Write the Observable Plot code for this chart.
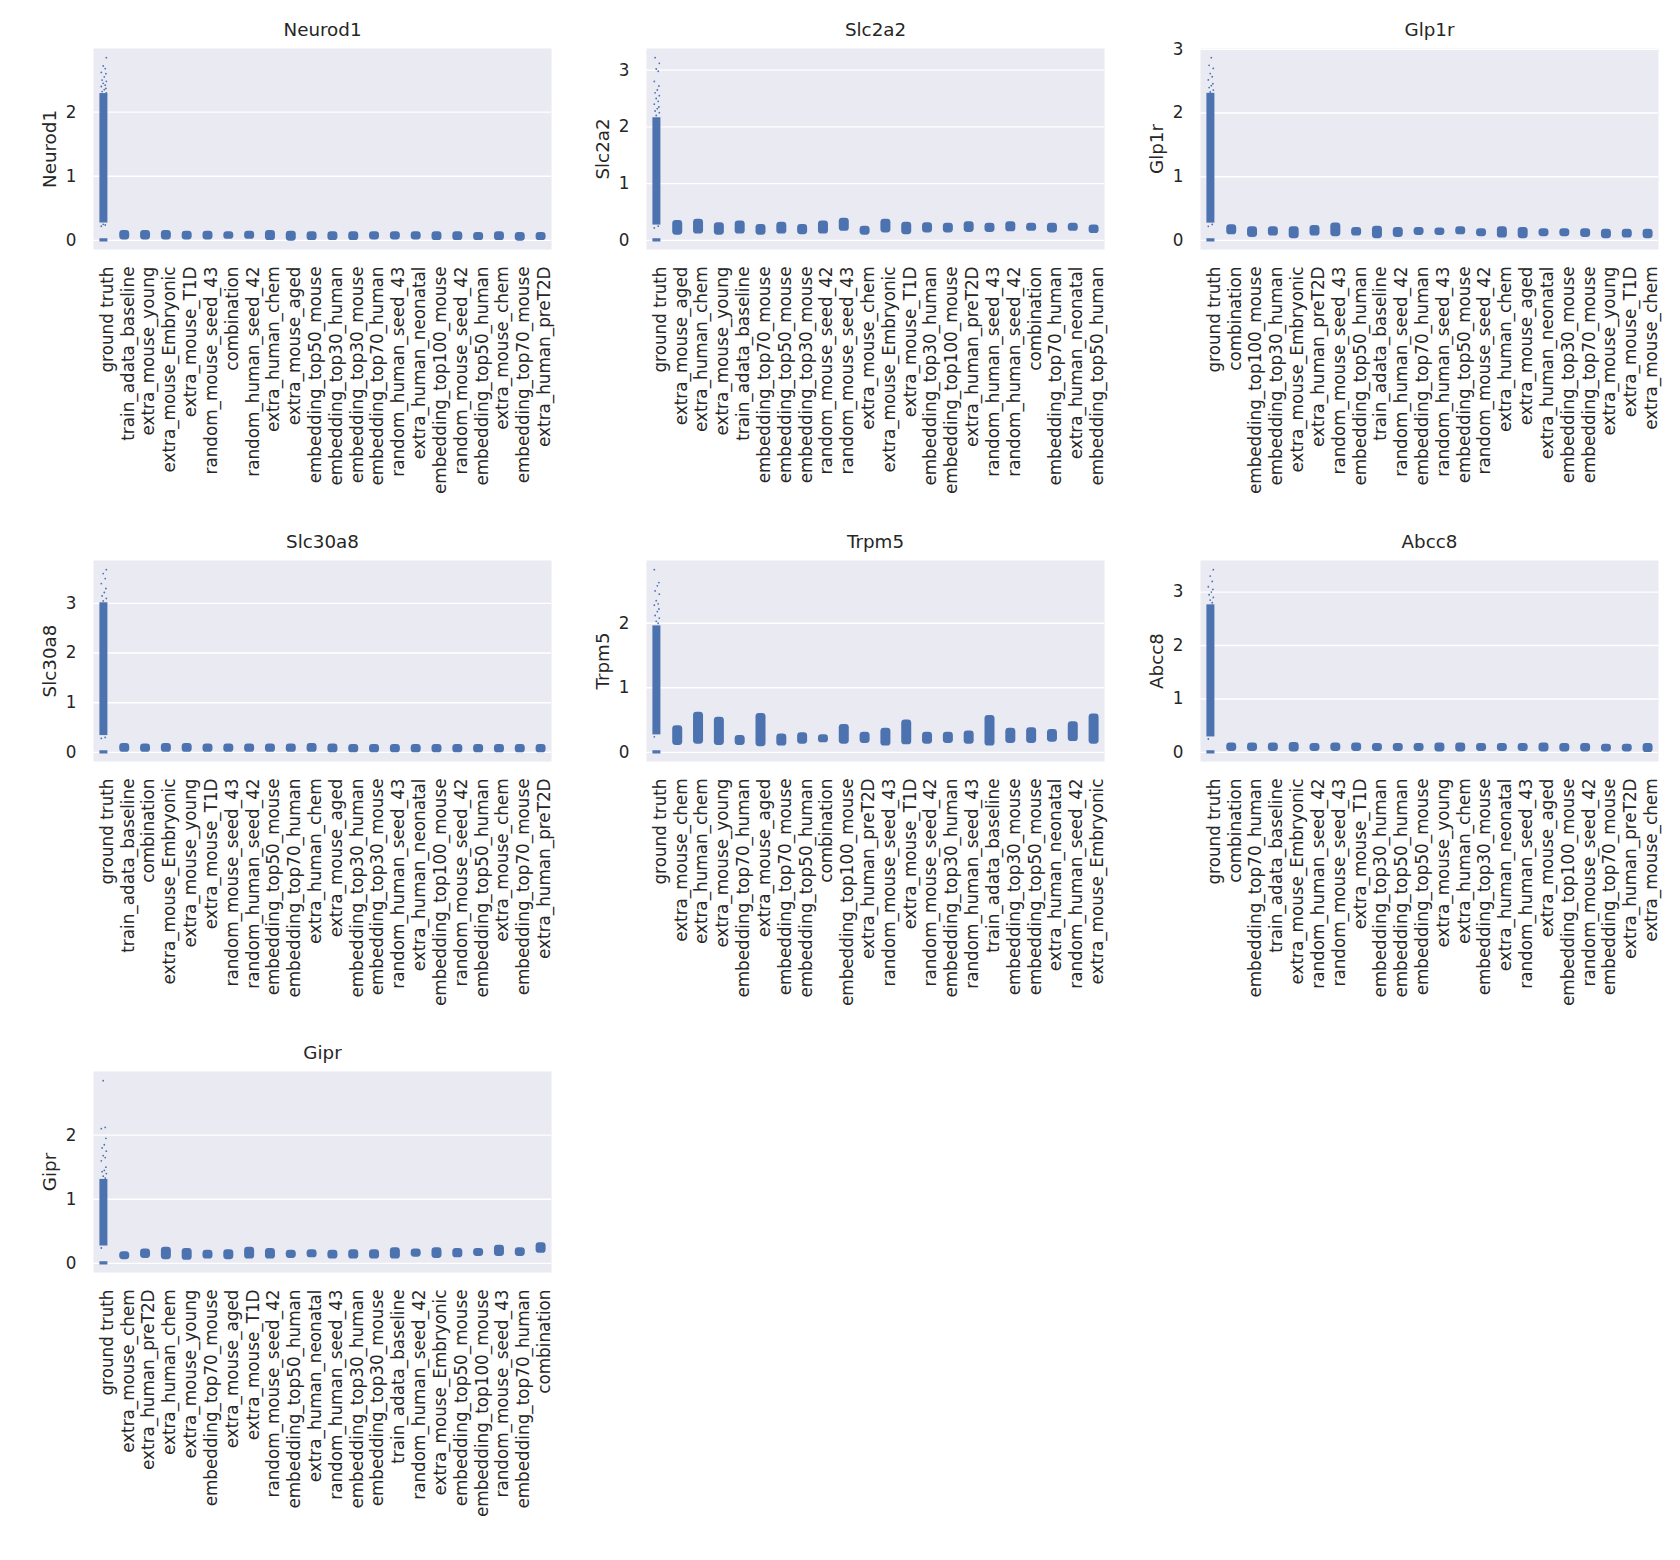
<!DOCTYPE html>
<html>
<head>
<meta charset="utf-8">
<script src="https://cdn.jsdelivr.net/npm/d3@7"></script>
<script src="https://cdn.jsdelivr.net/npm/@observablehq/plot@0.6"></script>
<style>
  body { margin: 0; background: #ffffff; }
  #root { position: relative; width: 1680px; height: 1560px; background: #ffffff; overflow: hidden; }
  #root svg { position: absolute; }
</style>
</head>
<body>
<div id="root"></div>
<script>
// ---------------- DATA ----------------
const genes = ["Neurod1", "Slc2a2", "Glp1r", "Slc30a8", "Trpm5", "Abcc8", "Gipr"];

// Neurod1
const neurod1Cats = ["ground truth","train_adata_baseline","extra_mouse_young","extra_mouse_Embryonic","extra_mouse_T1D","random_mouse_seed_43","combination","random_human_seed_42","extra_human_chem","extra_mouse_aged","embedding_top50_mouse","embedding_top30_human","embedding_top30_mouse","embedding_top70_human","random_human_seed_43","extra_human_neonatal","embedding_top100_mouse","random_mouse_seed_42","embedding_top50_human","extra_mouse_chem","embedding_top70_mouse","extra_human_preT2D"];
const neurod1Lo = [0.06,0.06,0.06,0.06,0.06,0.07,0.07,0.05,0.04,0.05,0.05,0.05,0.06,0.06,0.06,0.05,0.05,0.05,0.05,0.04,0.05];
const neurod1Hi = [0.10,0.10,0.10,0.09,0.09,0.08,0.09,0.10,0.09,0.08,0.08,0.08,0.08,0.08,0.08,0.08,0.08,0.07,0.08,0.07,0.07];
const neurod1GtCore = [0.28, 2.28];
const neurod1GtTail = [0.22,0.24,0.25,2.3,2.32,2.35,2.37,2.4,2.42,2.45,2.48,2.5,2.55,2.6,2.62,2.68,2.72,2.85];

// Slc2a2
const slc2a2Cats = ["ground truth","extra_mouse_aged","extra_human_chem","extra_mouse_young","train_adata_baseline","embedding_top70_mouse","embedding_top50_mouse","embedding_top30_mouse","random_mouse_seed_42","random_mouse_seed_43","extra_mouse_chem","extra_mouse_Embryonic","extra_mouse_T1D","embedding_top30_human","embedding_top100_mouse","extra_human_preT2D","random_human_seed_43","random_human_seed_42","combination","embedding_top70_human","extra_human_neonatal","embedding_top50_human"];
const slc2a2Lo = [0.15,0.17,0.15,0.17,0.15,0.17,0.16,0.17,0.22,0.15,0.19,0.16,0.19,0.19,0.20,0.20,0.21,0.22,0.19,0.22,0.18];
const slc2a2Hi = [0.29,0.31,0.25,0.28,0.22,0.26,0.22,0.28,0.33,0.19,0.31,0.26,0.25,0.24,0.27,0.24,0.27,0.24,0.24,0.24,0.21];
const slc2a2GtCore = [0.28, 2.15];
const slc2a2GtTail = [0.22,0.25,2.2,2.25,2.28,2.32,2.35,2.4,2.45,2.5,2.55,2.6,2.65,2.72,2.8,2.98,3.02,3.12,3.22];

// Glp1r
const glp1rCats = ["ground truth","combination","embedding_top100_mouse","embedding_top30_human","extra_mouse_Embryonic","extra_human_preT2D","random_mouse_seed_43","embedding_top50_human","train_adata_baseline","random_human_seed_42","embedding_top70_human","random_human_seed_43","embedding_top50_mouse","random_mouse_seed_42","extra_human_chem","extra_mouse_aged","extra_human_neonatal","embedding_top30_mouse","embedding_top70_mouse","extra_mouse_young","extra_mouse_T1D","extra_mouse_chem"];
const glp1rLo = [0.14,0.10,0.12,0.08,0.12,0.11,0.12,0.08,0.10,0.13,0.13,0.14,0.11,0.09,0.08,0.11,0.11,0.10,0.08,0.09,0.08];
const glp1rHi = [0.19,0.16,0.16,0.16,0.18,0.22,0.15,0.17,0.15,0.15,0.14,0.16,0.13,0.16,0.15,0.13,0.13,0.13,0.12,0.12,0.12];
const glp1rGtCore = [0.28, 2.3];
const glp1rGtTail = [0.22,0.25,2.33,2.36,2.4,2.43,2.46,2.52,2.57,2.62,2.7,2.75,2.87];

// Slc30a8
const slc30a8Cats = ["ground truth","train_adata_baseline","combination","extra_mouse_Embryonic","extra_mouse_young","extra_mouse_T1D","random_mouse_seed_43","random_human_seed_42","embedding_top50_mouse","embedding_top70_human","extra_human_chem","extra_mouse_aged","embedding_top30_human","embedding_top30_mouse","random_human_seed_43","extra_human_neonatal","embedding_top100_mouse","random_mouse_seed_42","embedding_top50_human","extra_mouse_chem","embedding_top70_mouse","extra_human_preT2D"];
const slc30a8Lo = [0.07,0.07,0.07,0.07,0.07,0.07,0.07,0.07,0.07,0.07,0.06,0.06,0.06,0.06,0.06,0.06,0.06,0.06,0.06,0.06,0.06];
const slc30a8Hi = [0.11,0.10,0.11,0.11,0.10,0.10,0.10,0.10,0.10,0.11,0.10,0.09,0.09,0.09,0.09,0.09,0.09,0.09,0.09,0.09,0.09];
const slc30a8GtCore = [0.35, 3.0];
const slc30a8GtTail = [0.28,0.3,3.05,3.1,3.15,3.22,3.3,3.4,3.5,3.6,3.68];

// Trpm5
const trpm5Cats = ["ground truth","extra_mouse_chem","extra_human_chem","extra_mouse_young","embedding_top70_human","extra_mouse_aged","embedding_top70_mouse","embedding_top50_human","combination","embedding_top100_mouse","extra_human_preT2D","random_mouse_seed_43","extra_mouse_T1D","random_mouse_seed_42","embedding_top30_human","random_human_seed_43","train_adata_baseline","embedding_top30_mouse","embedding_top50_mouse","extra_human_neonatal","random_human_seed_42","extra_mouse_Embryonic"];
const trpm5Lo = [0.16,0.18,0.16,0.16,0.14,0.15,0.18,0.20,0.18,0.19,0.15,0.17,0.18,0.19,0.18,0.15,0.19,0.19,0.21,0.22,0.18];
const trpm5Hi = [0.36,0.57,0.49,0.21,0.55,0.23,0.25,0.22,0.38,0.26,0.32,0.45,0.26,0.26,0.28,0.52,0.32,0.33,0.30,0.42,0.54];
const trpm5GtCore = [0.28, 1.95];
const trpm5GtTail = [0.24,2.0,2.03,2.08,2.12,2.18,2.22,2.28,2.3,2.35,2.45,2.5,2.58,2.63,2.83];

// Abcc8
const abcc8Cats = ["ground truth","combination","embedding_top70_human","train_adata_baseline","extra_mouse_Embryonic","random_human_seed_42","random_mouse_seed_43","extra_mouse_T1D","embedding_top30_human","embedding_top50_human","embedding_top50_mouse","extra_mouse_young","extra_human_chem","embedding_top30_mouse","extra_human_neonatal","random_human_seed_43","extra_mouse_aged","embedding_top100_mouse","random_mouse_seed_42","embedding_top70_mouse","extra_human_preT2D","extra_mouse_chem"];
const abcc8Lo = [0.08,0.08,0.08,0.07,0.08,0.08,0.08,0.08,0.08,0.08,0.07,0.07,0.08,0.08,0.08,0.07,0.07,0.07,0.07,0.07,0.06];
const abcc8Hi = [0.11,0.11,0.11,0.12,0.10,0.11,0.11,0.10,0.10,0.10,0.11,0.11,0.10,0.10,0.10,0.11,0.10,0.10,0.09,0.09,0.10];
const abcc8GtCore = [0.3, 2.75];
const abcc8GtTail = [0.25,2.8,2.85,2.9,2.95,3.0,3.05,3.1,3.2,3.3,3.42];

// Gipr
const giprCats = ["ground truth","extra_mouse_chem","extra_human_preT2D","extra_human_chem","extra_mouse_young","embedding_top70_mouse","extra_mouse_aged","extra_mouse_T1D","random_mouse_seed_42","embedding_top50_human","extra_human_neonatal","random_human_seed_43","embedding_top30_human","embedding_top30_mouse","train_adata_baseline","random_human_seed_42","extra_mouse_Embryonic","embedding_top50_mouse","embedding_top100_mouse","random_mouse_seed_43","embedding_top70_human","combination"];
const giprLo = [0.11,0.13,0.11,0.10,0.12,0.11,0.12,0.12,0.13,0.14,0.12,0.12,0.12,0.12,0.15,0.13,0.14,0.16,0.16,0.16,0.21];
const giprHi = [0.13,0.17,0.20,0.18,0.15,0.16,0.20,0.18,0.15,0.16,0.15,0.16,0.16,0.19,0.17,0.19,0.18,0.18,0.23,0.19,0.27];
const giprGtCore = [0.28, 1.3];
const giprGtTail = [0.24,1.33,1.36,1.4,1.43,1.45,1.5,1.6,1.65,1.68,1.75,1.8,1.85,1.95,2.1,2.12,2.85];

// ---------------- LAYOUT / STYLE ----------------
const COLOR = "#4C72B0";
const BG = "#EAEAF2";
const TEXT = "#262626";
const FRAME_W = 458, FRAME_H = 201;
const ML = 100, MT = 48, MR = 12, MB = 262;
const colLeft = [93, 646, 1200];
const rowTop = [48, 560, 1071];

function panel(gene, cats, lo, hi, gtCore, gtTail, col, row) {
  const max = d3.max([gtCore[1], ...gtTail]);
  const domain = [-0.05 * max, 1.05 * max];
  const ticks = d3.range(0, Math.floor(domain[1]) + 1);
  const clusters = cats.slice(1).map((c, i) => ({cat: c, lo: lo[i], hi: hi[i]}));
  const band = FRAME_W / cats.length;
  const cIn = (band - 10) / 2;
  const gIn = (band - 8) / 2;
  const gt = cats[0];
  const jit = [-2.6, 1.3, -0.7, 2.4, -1.8, 0.4, 2.0];
  const tailMarks = jit.map((dx, k) =>
    Plot.dot(gtTail.filter((_, i) => i % jit.length === k), {x: () => gt, y: d => d, r: 0.9, fill: COLOR, stroke: null, dx})
  );
  const svg = Plot.plot({
    width: ML + FRAME_W + MR,
    height: MT + FRAME_H + MB,
    marginLeft: ML, marginTop: MT, marginRight: MR, marginBottom: MB,
    style: {fontFamily: "'DejaVu Sans', sans-serif", fontSize: "16.8px", color: TEXT, background: "transparent", overflow: "visible"},
    x: {domain: cats, padding: 0, round: false, label: null},
    y: {domain, label: null},
    marks: [
      Plot.frame({fill: BG, stroke: null}),
      Plot.ruleY(ticks, {stroke: "#ffffff", strokeWidth: 1.4}),
      Plot.axisX({tickRotate: -90, tickSize: 0, tickPadding: 17, dx: 3.5, label: null}),
      Plot.axisY({ticks, tickFormat: d => String(d), tickSize: 0, tickPadding: 17, label: null}),
      Plot.barY(clusters, {x: "cat", y1: "lo", y2: "hi", fill: COLOR, insetLeft: cIn, insetRight: cIn, insetTop: -3.4, insetBottom: -3.4, rx: 3.4}),
      Plot.barY([gtCore], {x: () => gt, y1: d => d[0], y2: d => d[1], fill: COLOR, insetLeft: gIn, insetRight: gIn, insetTop: -0.6, insetBottom: -0.6}),
      Plot.barY([0], {x: () => gt, y1: d => d, y2: d => d, fill: COLOR, insetLeft: gIn, insetRight: gIn, insetTop: -1.6, insetBottom: -1.6}),
      ...tailMarks,
      Plot.text([gene], {frameAnchor: "top", dy: -18, lineAnchor: "middle", fontSize: 18.3, fill: TEXT}),
      Plot.text([gene], {frameAnchor: "left", dx: -43, rotate: -90, textAnchor: "middle", lineAnchor: "middle", fontSize: 18.3, fill: TEXT})
    ]
  });
  svg.style.left = (colLeft[col] - ML) + "px";
  svg.style.top = (rowTop[row] - MT) + "px";
  document.getElementById("root").appendChild(svg);
}

panel(genes[0], neurod1Cats, neurod1Lo, neurod1Hi, neurod1GtCore, neurod1GtTail, 0, 0);
panel(genes[1], slc2a2Cats, slc2a2Lo, slc2a2Hi, slc2a2GtCore, slc2a2GtTail, 1, 0);
panel(genes[2], glp1rCats, glp1rLo, glp1rHi, glp1rGtCore, glp1rGtTail, 2, 0);
panel(genes[3], slc30a8Cats, slc30a8Lo, slc30a8Hi, slc30a8GtCore, slc30a8GtTail, 0, 1);
panel(genes[4], trpm5Cats, trpm5Lo, trpm5Hi, trpm5GtCore, trpm5GtTail, 1, 1);
panel(genes[5], abcc8Cats, abcc8Lo, abcc8Hi, abcc8GtCore, abcc8GtTail, 2, 1);
panel(genes[6], giprCats, giprLo, giprHi, giprGtCore, giprGtTail, 0, 2);
</script>
</body>
</html>
